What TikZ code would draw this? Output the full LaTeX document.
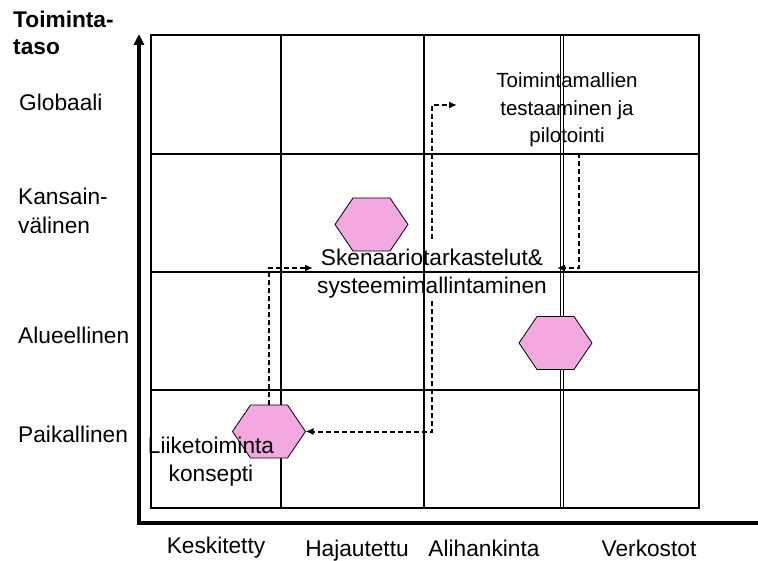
\documentclass[tikz,border=0pt]{standalone}
\usepackage{fontspec}
\setmainfont{Liberation Sans}
\usetikzlibrary{arrows.meta}
\definecolor{hexpink}{RGB}{244,168,224}
\begin{document}
\begin{tikzpicture}[x=1pt,y=-1pt,
  lbl/.style={inner sep=0pt, font=\fontsize{22.7}{28}\selectfont},
  boldlbl/.style={inner sep=0pt, font=\fontsize{22.7}{28}\selectfont\bfseries},
  gridline/.style={line width=1.8pt},
  thinline/.style={line width=1pt},
  axisline/.style={line width=4pt, line join=miter, -{Triangle[length=11pt,width=10pt]}},
  conn/.style={line width=2pt, dash pattern=on 5pt off 3pt, -{Latex[length=8pt,width=7pt]}},
  hexa/.pic={
    \draw[fill=hexpink, line width=0.8pt] (-36.5,0) -- (-18.5,-26.5) -- (18.5,-26.5)
      -- (36.5,0) -- (18.5,26.5) -- (-18.5,26.5) -- cycle;
    \coordinate (-top) at (0,-26.5);
    \coordinate (-east) at (36.5,0);
  }]
\useasboundingbox (0,0) rectangle (758,561);

% grid of cells
\draw[gridline] (151,35) rectangle (699,508);
\foreach \x in {281,424} \draw[gridline] (\x,35) -- (\x,508);
\foreach \y in {154,272,390} \draw[gridline] (151,\y) -- (699,\y);
\draw[thinline] (560,35) -- (560,508);
\draw[thinline] (563.5,35) -- (563.5,508);

% axes
\coordinate (origin) at (139,523);
\coordinate (xend) at (758,523);
\coordinate (ytip) at (139,34);
\draw[axisline] (xend) -- (origin) -- (ytip);

% hexagons
\pic (h1) at (371.5,224.5) {hexa};
\pic (h2) at (555.5,343) {hexa};
\pic (h3) at (269,431.5) {hexa};

% text blocks
\node[lbl, align=center, inner sep=4pt] (sken) at (432,274) {Skenaariotarkastelut\&\\systeemimallintaminen};
\node[inner sep=0pt, font=\fontsize{20.5}{27.5}\selectfont, align=center] (toim) at (567,110) {Toimintamallien\\testaaminen ja\\pilotointi};
\node[lbl, align=center] (liike) at (211,462) {Liiketoiminta\\konsepti};

% flow between the stages
\coordinate (toimin) at (457,105);
\draw[conn] (h3-top) |- ([yshift=6pt]sken.west);
\draw[conn] ([yshift=6pt]sken.north) |- (toimin);
\draw[conn] ([xshift=12pt,yshift=-6pt]toim.south) |- ([xshift=6pt,yshift=6pt]sken.east);
\draw[conn] ([yshift=2pt]sken.south) |- (h3-east);

% vertical axis labels
\node[boldlbl, anchor=base west] (tt1) at (13,28) {Toiminta-};
\node[boldlbl, anchor=base west] (tt2) at (13,55) {taso};
\node[lbl, anchor=base west] (glob) at (19,111) {Globaali};
\node[lbl, anchor=base west] (kans1) at (18,205) {Kansain-};
\node[lbl, anchor=base west] (kans2) at (18,234) {välinen};
\node[lbl, anchor=base west] (alue) at (18,344) {Alueellinen};
\node[lbl, anchor=base west] (paik) at (18,442) {Paikallinen};

% horizontal axis labels
\node[lbl, anchor=base] (kesk) at (216,553) {Keskitetty};
\node[lbl, anchor=base] (haja) at (357,556) {Hajautettu};
\node[lbl, anchor=base] (alih) at (484,556) {Alihankinta};
\node[lbl, anchor=base] (verk) at (649,556) {Verkostot};
\end{tikzpicture}
\end{document}
